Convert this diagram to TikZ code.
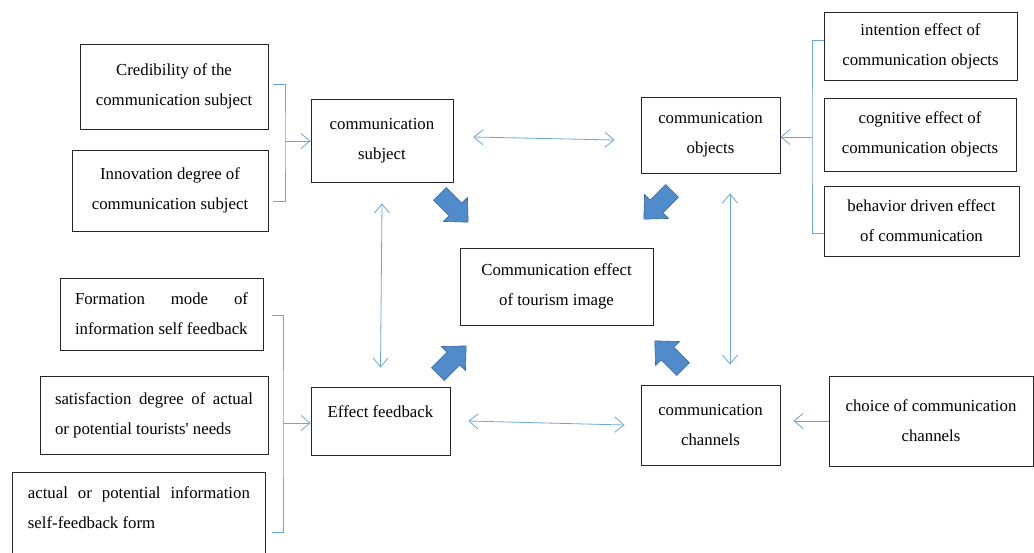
\documentclass[tikz,border=0pt]{standalone}
\usepackage{fontspec}
\setmainfont{Liberation Serif}
\newfontfamily\plainserif{Liberation Serif}
\usepackage{tikz}
\usetikzlibrary{arrows.meta}

\definecolor{linkblue}{RGB}{108,164,220}
\definecolor{fatblue}{RGB}{80,140,204}
\definecolor{fatedge}{RGB}{58,104,156}

\begin{document}
\begin{tikzpicture}[x=1pt,y=-1pt,font=\fontsize{16.8}{30}\selectfont,
  >={Straight Barb[length=9pt,width=15pt]},
  box/.style={draw=black!85,line width=0.8pt,align=center,inner sep=0pt},
  link/.style={draw=linkblue,line width=0.8pt},
  fat/.style={fill=fatblue,draw=fatedge,line width=0.6pt,line join=miter},
  fatarrow/.pic={\path[fat] (-20,-9) -- (2,-9) -- (2,-17) -- (20,0) -- (2,17) -- (2,9) -- (-20,9) -- cycle;}]
  \useasboundingbox (0,0) rectangle (1034,552);
  \clip (0,0) rectangle (1034,552);

  \node[box,minimum width=188pt,minimum height=85pt] (cred) at (174,86.5) {Credibility of the\\communication subject};
  \node[box,minimum width=196pt,minimum height=81pt] (innov) at (170,190.5) {Innovation degree of\\communication subject};
  \node[box,minimum width=142pt,minimum height=83pt] (subj) at (382,140.5) {communication\\subject};
  \node[box,minimum width=139pt,minimum height=76pt] (objs) at (710.5,135) {communication\\objects};
  \node[box,minimum width=193pt,minimum height=77pt] (effect) at (556.5,286.5) {Communication effect\\of tourism image};
  \node[box,minimum width=193pt,minimum height=68pt] (intent) at (920.5,46) {intention effect of\\communication objects};
  \node[box,minimum width=192pt,minimum height=73pt] (cogn) at (920,134.5) {cognitive effect of\\communication objects};
  \node[box,minimum width=195pt,minimum height=70pt] (behav) at (921.5,221) {behavior driven effect\\of communication};
  \node[box,minimum width=203pt,minimum height=72pt,align=left] (formation) at (161.5,314)
    {\hbox to 173pt{Formation\hfill mode\hfill of}\\information self feedback};
  \node[box,minimum width=228pt,minimum height=78pt,align=left] (satisf) at (154,415)
    {\hbox to 198pt{satisfaction\hfill degree\hfill of\hfill actual}\\or potential tourists{\plainserif'} needs};
  \node[box,anchor=north west,minimum width=253pt,minimum height=100pt,align=left] (selfform) at (12,472)
    {\hbox to 222pt{actual\hfill or\hfill potential\hfill information}\\self-feedback form\\\mbox{}};
  \node[box,minimum width=139pt,minimum height=68pt,text depth=19pt] (feedback) at (380.5,421) {Effect feedback};
  \node[box,minimum width=139pt,minimum height=80pt] (channels) at (710.5,425) {communication\\channels};
  \node[box,minimum width=204pt,minimum height=90pt] (choice) at (931,421) {choice of communication\\channels};

  \pic[rotate=-45] at (454,208) {fatarrow};
  \pic[rotate=-135] at (658,205) {fatarrow};
  \pic[rotate=45] at (452,360) {fatarrow};
  \pic[rotate=135] at (669,355) {fatarrow};

  \coordinate (jointA) at (285,141);
  \coordinate (jointB) at (283,423);
  \coordinate (jointC) at (812,137);
  \draw[link] (273,84) -| (jointA) |- (273,201);
  \draw[link] (272,315) -| (jointB) |- (272,532);
  \draw[link] (824,40) -| (jointC) |- (824,233);
  \draw[link,->] (jointA) -- (jointA -| subj.west);
  \draw[link,->] (jointB) -- (jointB -| feedback.west);
  \draw[link,->] (jointC) -- (jointC -| objs.east);
  \draw[link,->,shorten >=13pt] (choice.west) -- (choice.west -| channels.east);

  \draw[link,<->] ([xshift=20pt,yshift=3.5pt]subj.east) -- ([xshift=-26pt,yshift=-5pt]objs.west);
  \draw[link,<->] ([xshift=18pt]feedback.east) -- ([xshift=-16pt]channels.west);
  \draw[link,<->] ([yshift=-21pt]subj.south) -- ([yshift=19pt]feedback.north);
  \draw[link,<->] ([xshift=19.5pt,yshift=-20pt]objs.south) -- ([xshift=19.5pt,yshift=20pt]channels.north);
\end{tikzpicture}
\end{document}
